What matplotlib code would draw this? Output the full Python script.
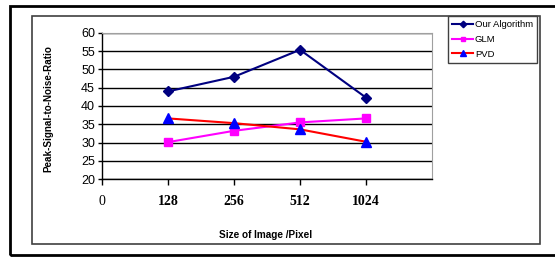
import numpy as np
import matplotlib.pyplot as plt
from matplotlib.patches import Rectangle

sizes = ['0', '128', '256', '512', '1024']
our_alg = [44.0, 48.0, 55.4, 42.3]
glm = [30.1, 33.2, 35.5, 36.6]
pvd = [36.6, 35.3, 33.6, 30.2]

fig = plt.figure(figsize=(5.55, 2.6), dpi=100)
W, H = 555, 260

# outer and inner frames
fig.add_artist(Rectangle((10 / W, 5 / H), 560 / W, 249 / H, transform=fig.transFigure,
                         fill=False, lw=2, ec='k'))
fig.add_artist(Rectangle((32 / W, 16 / H), 508 / W, 228 / H, transform=fig.transFigure,
                         fill=False, lw=1.2, ec='#404040'))

ax = fig.add_axes([102 / W, (260 - 179) / H, 330 / W, 146 / H])
x = np.arange(1, 5)
ax.plot(x, our_alg, color='#000080', lw=1.5, marker='D', ms=5.5, label='Our Algorithm')
ax.plot(x, glm, color='#FF00FF', lw=1.5, marker='s', ms=6, label='GLM')
ax.plot(x, pvd, color='#FF0000', lw=1.5, marker='^', ms=6.5, mfc='#0000FF', mec='#0000FF',
        label='PVD')

ax.set_xlim(0, 5)
ax.set_ylim(20, 60)
ax.set_yticks(range(20, 61, 5))
ax.set_xticks(range(5))
ax.set_xticklabels(sizes, family='Liberation Serif', fontsize=10)
for i, t in enumerate(ax.get_xticklabels()):
    if i > 0:
        t.set_fontweight('bold')
ax.tick_params(axis='x', length=4, width=1, pad=7.5)
ax.tick_params(axis='y', length=3, width=1, pad=2, labelsize=9)
for t in ax.get_yticklabels():
    t.set_family('Liberation Sans')
ax.yaxis.grid(True, color='k', lw=1)
ax.set_axisbelow(True)
for s in ['top', 'right']:
    ax.spines[s].set_color('#a0a0a0')
ax.spines['left'].set_linewidth(1)
ax.spines['bottom'].set_linewidth(1)

fig.text(48 / W, 1 - 109 / H, 'Peak-Signal-to-Noise-Ratio', rotation=90, ha='center', va='center',
         fontsize=7.1, fontweight='bold', family='Liberation Sans')
fig.text(266 / W, 1 - 235 / H, 'Size of Image /Pixel', ha='center', va='center',
         fontsize=7.2, fontweight='bold', family='Liberation Sans')

leg = fig.legend(loc='upper left', bbox_to_anchor=(448 / W, 1 - 16 / H), fancybox=False,
                 edgecolor='#404040', framealpha=1, markerscale=0.6,
                 handlelength=2.2, handletextpad=0.2, labelspacing=0.6, borderpad=0.45,
                 borderaxespad=0, prop={'family': 'Liberation Sans', 'size': 6.8})
leg.get_frame().set_linewidth(1)

fig.savefig('out.png', dpi=100)
